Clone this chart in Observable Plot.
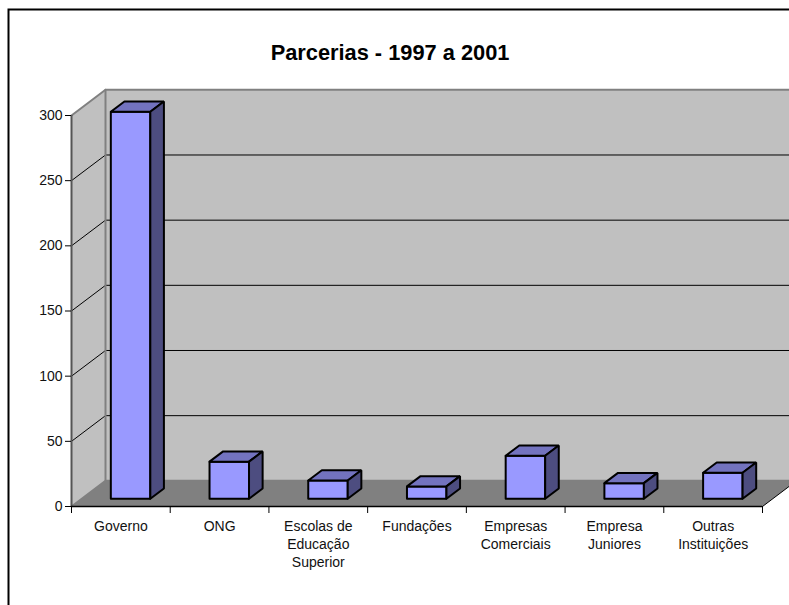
<!DOCTYPE html>
<html><head><meta charset="utf-8">
<script src="https://cdn.jsdelivr.net/npm/d3@7"></script>
<script src="https://cdn.jsdelivr.net/npm/@observablehq/plot@0.6"></script>
<style>html,body{margin:0;padding:0;overflow:hidden;background:#fff}</style>
</head><body><div id="chart"></div>
<script>
const chartTitle = "Parcerias - 1997 a 2001";
const categories = ["Governo","ONG","Escolas de\nEducação\nSuperior","Fundações","Empresas\nComerciais","Empresa\nJuniores","Outras\nInstituições"];
const values = [297, 28.5, 14, 9.5, 33, 12, 20];
const yTicks = [0,50,100,150,200,250,300];
const gridValues = [50,100,150,200,250];
const catTicks = [0,1,2,3,4,5,6,7];

// oblique projection: t is depth 0..1
const depthX = 0.3445, depthY = 19.7;
const P = (c, v, t) => ({x: c + t*depthX, y: v + t*depthY});
const n = categories.length, vMax = 300;
const font = "Liberation Sans, Arial, sans-serif";

const poly = (pts) => [...pts, pts[0]];
const leftWall = poly([P(0,0,0),P(0,0,1),P(0,vMax,1),P(0,vMax,0)]);
const backWall = poly([P(0,0,1),P(n,0,1),P(n,vMax,1),P(0,vMax,1)]);
const floor3d = poly([P(0,0,0),P(n,0,0),P(n,0,1),P(0,0,1)]);
const grid = gridValues.flatMap(v => [
  {...P(0,v,0),k:v},{...P(0,v,1),k:v},{...P(n,v,1),k:v}
]);
const wallEdges = [
  {...P(0,0,0),k:"a"},{...P(0,0,1),k:"a"},{...P(n,0,1),k:"a"},
  {...P(0,0,1),k:"b"},{...P(0,vMax,1),k:"b"},
  {...P(0,vMax,0),k:"c"},{...P(0,vMax,1),k:"c"},{...P(n,vMax,1),k:"c"}
];
const floorEdge = [P(n,0,0),P(n,0,1)];

const x0=.295, x1=.695, t0=.3, t1=.7;
const faces = (fn) => values.flatMap((v,i) => fn(v,i).map(p => ({...p,k:i})));
const barFront = faces((v,i) => poly([P(i+x0,0,t0),P(i+x1,0,t0),P(i+x1,v,t0),P(i+x0,v,t0)]));
const barTop = faces((v,i) => poly([P(i+x0,v,t0),P(i+x1,v,t0),P(i+x1,v,t1),P(i+x0,v,t1)]));
const barSide = faces((v,i) => poly([P(i+x1,0,t0),P(i+x1,0,t1),P(i+x1,v,t1),P(i+x1,v,t0)]));
const barStyle = {x:"x",y:"y",z:"k",stroke:"#000",strokeWidth:2,strokeLinejoin:"miter"};

const plot = Plot.plot({
  width:789, height:605,
  marginLeft:71, marginRight:27, marginTop:115, marginBottom:99,
  style:{fontFamily:font, background:"transparent", overflow:"hidden"},
  x:{domain:[0,n], axis:null},
  y:{domain:[0,vMax], axis:null},
  marks:[
    Plot.line(leftWall,{x:"x",y:"y",fill:"#c0c0c0",stroke:"none"}),
    Plot.line(backWall,{x:"x",y:"y",fill:"#c0c0c0",stroke:"none"}),
    Plot.line(floor3d,{x:"x",y:"y",fill:"#808080",stroke:"none"}),
    Plot.line(grid,{x:"x",y:"y",z:"k",stroke:"#000",strokeWidth:1}),
    Plot.line(wallEdges,{x:"x",y:"y",z:"k",stroke:"#808080",strokeWidth:2}),
    Plot.line(floorEdge,{x:"x",y:"y",stroke:"#000",strokeWidth:1}),
    Plot.ruleX([0],{stroke:"#555",strokeWidth:2}),
    Plot.ruleY([0],{stroke:"#000",strokeWidth:1.5}),
    Plot.axisY({ticks:yTicks,tickSize:6,tickPadding:3,fontSize:14,fontWeight:"normal",fill:"#111",stroke:"#000",label:null,tickFormat:d=>String(d)}),
    Plot.axisX({ticks:catTicks,tickSize:7,tickFormat:()=>"",label:null,stroke:"#000"}),
    Plot.line(barFront,{...barStyle,fill:"#9999ff"}),
    Plot.line(barTop,{...barStyle,fill:"#7373bf"}),
    Plot.line(barSide,{...barStyle,fill:"#4d4d80"}),
    Plot.text(categories,{x:(d,i)=>i+.5,y:()=>0,text:d=>d,dy:12,lineAnchor:"top",lineHeight:1.29,fontSize:14,fill:"#111"}),
    Plot.text([chartTitle],{frameAnchor:"top",dx:-27,dy:-62,lineAnchor:"middle",text:d=>d,fontSize:21.8,fontWeight:"bold",fill:"#000"}),
    Plot.frame({stroke:"#000",strokeWidth:2,insetLeft:-63,insetTop:-106,insetRight:-60,insetBottom:-120})
  ]
});
document.getElementById("chart").appendChild(plot);
</script></body></html>
